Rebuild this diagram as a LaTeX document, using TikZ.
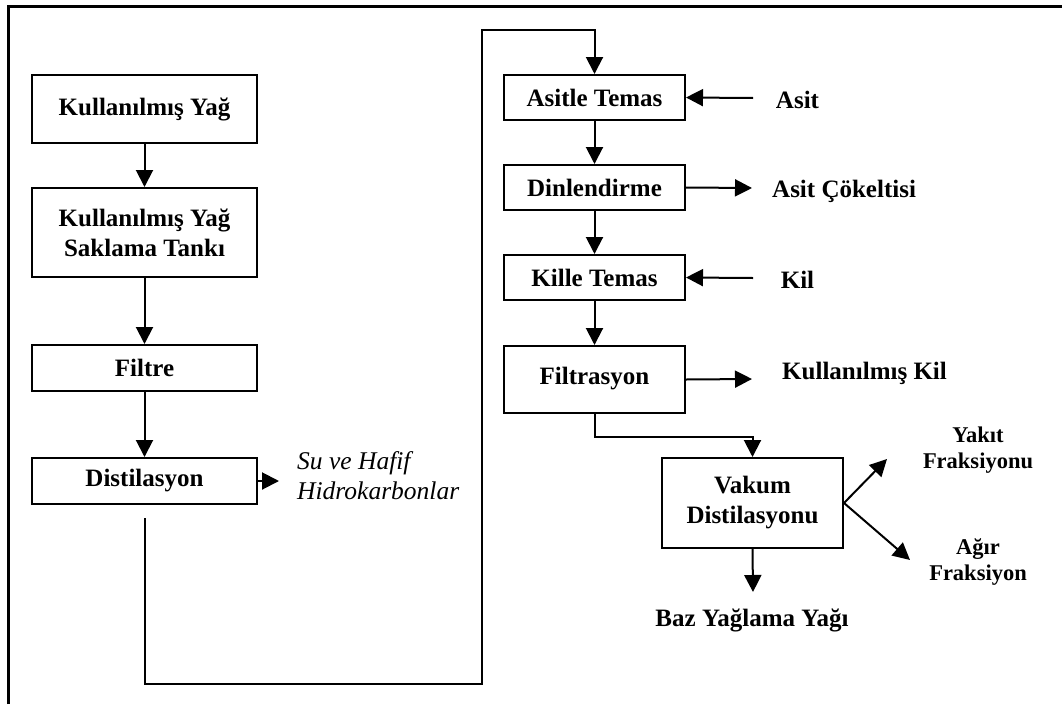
\documentclass[tikz,border=0pt]{standalone}
\usepackage{fontspec}
\setmainfont{Liberation Serif}
\usetikzlibrary{arrows.meta,calc}
\begin{document}
\begin{tikzpicture}[x=1pt,y=-1pt,
  every node/.style={font=\fontsize{25}{30}\selectfont\bfseries, inner sep=0pt},
  procbox/.style={draw, line width=2pt, align=center},
  lbl/.style={align=center},
  conn/.style={line width=2pt},
  arr/.style={conn, -{Triangle[length=17pt,width=17pt]}}]
\useasboundingbox (0,0) rectangle (1062,704);
\draw[line width=2.6pt] (8.5,704) -- (8.5,6.5) -- (1062,6.5);
% left column
\node[procbox, minimum width=225pt, minimum height=68pt] (ky) at (144.5,109) {Kullanılmış Yağ};
\node[procbox, minimum width=225pt, minimum height=89pt] (kst) at (144.5,232.5) {Kullanılmış Yağ\\Saklama Tankı};
\node[procbox, minimum width=225pt, minimum height=46pt] (fil) at (144.5,368) {Filtre};
\node[procbox, minimum width=225pt, minimum height=46pt] (dist) at (144.5,481) {Distilasyon};
\node[lbl, anchor=west, font=\fontsize{25.5}{30}\selectfont\itshape, align=left] (su) at (297,476) {Su ve Hafif\\Hidrokarbonlar};
% middle column
\node[procbox, minimum width=181pt, minimum height=45pt] (ast) at (594.5,97.5) {Asitle Temas};
\node[procbox, minimum width=181pt, minimum height=45pt] (din) at (594.5,187.5) {Dinlendirme};
\node[procbox, minimum width=181pt, minimum height=45pt] (kit) at (594.5,277.5) {Kille Temas};
\node[procbox, minimum width=181pt, minimum height=67pt] (fts) at (594.5,379.5) {\raisebox{7pt}{Filtrasyon}};
\node[procbox, minimum width=181pt, minimum height=90pt] (vak) at (752.5,503) {Vakum\\Distilasyonu};
% labels
\node[lbl] (asit) at (797.5,100) {Asit};
\node[lbl, anchor=west] (cok) at (772,191) {Asit Çökeltisi};
\node[lbl] (kil) at (797.5,280) {Kil};
\node[lbl, anchor=west] (kk) at (782,373) {Kullanılmış Kil};
\node[lbl, font=\fontsize{22.5}{26}\selectfont\bfseries] (yak) at (978,450) {Yakıt\\Fraksiyonu};
\node[lbl, font=\fontsize{22.5}{26}\selectfont\bfseries] (agr) at (978,562) {Ağır\\Fraksiyon};
\node[lbl] (baz) at (752,620) {Baz Yağlama Yağı};
% coordinates
\coordinate (suend) at (279,481);
\coordinate (c1) at (482,684);
\coordinate (c2) at (482,30);
\coordinate (asitin) at (753,98);
\coordinate (cokend) at (752,188);
\coordinate (kilin) at (753,278);
\coordinate (kkend) at (752,379);
\coordinate (yakend) at (887,459);
\coordinate (agrend) at (910,560);
\coordinate (bazend) at (753,592);
% connectors
\draw[arr] (ky) -- (kst);
\draw[arr] (kst) -- (fil);
\draw[arr] (fil) -- (dist);
\draw[arr] (dist.east) -- (suend);
\draw[arr, shorten <=13pt] (dist.south) -- (dist.south |- c1) -- (c1) -- (c2) -| (ast.north);
\draw[arr] (asitin) -- (ast.east);
\draw[arr] (ast) -- (din);
\draw[arr] (din.east) -- (cokend);
\draw[arr] (din) -- (kit);
\draw[arr] (kilin) -- (kit.east);
\draw[arr] (kit) -- (fts);
\draw[arr] (fts.east) -- (kkend);
\draw[arr] (fts.south) -- ++(0,23) -| (vak.north);
\draw[arr] (vak.east) -- (yakend);
\draw[arr] (vak.east) -- (agrend);
\draw[arr] (vak.south) -- (bazend);
\end{tikzpicture}
\end{document}
